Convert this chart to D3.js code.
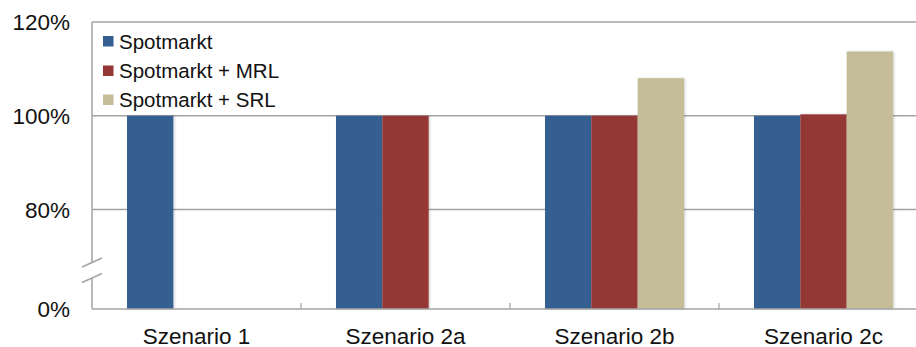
<!DOCTYPE html>
<html>
<head>
<meta charset="utf-8">
<script src="https://cdn.jsdelivr.net/npm/d3@7"></script>
<style>
  html, body { margin: 0; padding: 0; background: #fff; }
  svg { display: block; font-family: "Liberation Sans", Arial, sans-serif; }
</style>
</head>
<body>
<svg id="chart" width="916" height="347"></svg>
<script>
// Scenario categories and series
const categories = ["Szenario 1", "Szenario 2a", "Szenario 2b", "Szenario 2c"];
const seriesNames = ["Spotmarkt", "Spotmarkt + MRL", "Spotmarkt + SRL"];
const seriesColors = ["#365F91", "#943735", "#C4BD97"];
// Values per series, one per scenario (null = not part of the scenario)
const spotmarkt    = [1.00, 1.00, 1.00, 1.00];
const spotmarktMRL = [null, 1.00, 1.00, 1.003];
const spotmarktSRL = [null, null, 1.08, 1.137];
const seriesValues = [spotmarkt, spotmarktMRL, spotmarktSRL];
// Y-axis ticks (broken axis: 0% then 80%..120%)
const yTicks = [0, 0.8, 1.0, 1.2];

const svg = d3.select("#chart");
const plotLeft = 92, plotTop = 22, plotBottom = 309, catWidth = 209;
const gridColor = "#a3a3a3";

// Piecewise scale so the lower part (0–80%) is compressed below the break
const y = d3.scaleLinear().domain([0, 0.8, 1.2]).range([plotBottom, 209.5, plotTop]);
const x0 = d3.scaleBand().domain(categories).range([plotLeft, plotLeft + catWidth * categories.length]);
const x1 = d3.scaleBand().domain(seriesNames).range([35, catWidth - 35]);

// Gridlines (top border at 120%, plus 100% and 80%)
svg.append("g").selectAll("line").data([0.8, 1.0, 1.2]).join("line")
  .attr("x1", plotLeft).attr("x2", 916)
  .attr("y1", d => y(d)).attr("y2", d => y(d))
  .attr("stroke", gridColor).attr("stroke-width", 1.5);

// Bar shadow
const defs = svg.append("defs");
const f = defs.append("filter").attr("id", "sh").attr("x", "-10%").attr("y", "-10%").attr("width", "130%").attr("height", "130%");
f.append("feDropShadow").attr("dx", 1.2).attr("dy", 0).attr("stdDeviation", 0.8)
  .attr("flood-color", "#000").attr("flood-opacity", 0.18);

// Bars
const barData = [];
categories.forEach((c, i) => {
  seriesNames.forEach((s, j) => {
    const v = seriesValues[j][i];
    if (v != null) barData.push({ cat: c, series: s, value: v, color: seriesColors[j] });
  });
});
svg.append("g").selectAll("rect").data(barData).join("rect")
  .attr("x", d => x0(d.cat) + x1(d.series))
  .attr("width", x1.bandwidth())
  .attr("y", d => y(d.value))
  .attr("height", d => plotBottom - y(d.value))
  .attr("fill", d => d.color)
  .attr("filter", "url(#sh)");

// Category axis
const xAxis = svg.append("g");
xAxis.append("line").attr("x1", plotLeft).attr("x2", 916).attr("y1", plotBottom).attr("y2", plotBottom)
  .attr("stroke", gridColor).attr("stroke-width", 1.5);
xAxis.selectAll("line.tick").data(categories.slice(1)).join("line").attr("class", "tick")
  .attr("x1", d => x0(d)).attr("x2", d => x0(d))
  .attr("y1", plotBottom).attr("y2", plotBottom - 6)
  .attr("stroke", gridColor).attr("stroke-width", 1.2);
xAxis.selectAll("text").data(categories).join("text")
  .attr("x", d => x0(d) + x0.bandwidth() / 2)
  .attr("y", 343.5)
  .attr("text-anchor", "middle")
  .attr("font-size", 22.5)
  .attr("fill", "#111")
  .text(d => d);

// Value axis with break
const breakTop = 262.5, breakBottom = 278;
const yAxis = svg.append("g");
yAxis.append("line").attr("x1", plotLeft).attr("x2", plotLeft).attr("y1", plotTop).attr("y2", breakTop)
  .attr("stroke", gridColor).attr("stroke-width", 1.5);
yAxis.append("line").attr("x1", plotLeft).attr("x2", plotLeft).attr("y1", breakBottom).attr("y2", plotBottom)
  .attr("stroke", gridColor).attr("stroke-width", 1.5);
[breakTop, breakBottom].forEach(yc => {
  yAxis.append("line")
    .attr("x1", plotLeft - 10).attr("y1", yc + 4.5)
    .attr("x2", plotLeft + 10).attr("y2", yc - 4.5)
    .attr("stroke", gridColor).attr("stroke-width", 1.5);
});
yAxis.selectAll("text").data(yTicks).join("text")
  .attr("x", 70)
  .attr("y", d => y(d) + 8)
  .attr("text-anchor", "end")
  .attr("font-size", 22.5)
  .attr("fill", "#111")
  .text(d => d3.format(".0%")(d));

// Legend
const legend = svg.append("g");
const rowY = [41, 70.5, 99.5];
seriesNames.forEach((s, i) => {
  legend.append("rect").attr("x", 103).attr("y", rowY[i] - 5).attr("width", 10.5).attr("height", 10.5)
    .attr("fill", seriesColors[i]);
  legend.append("text").attr("x", 119).attr("y", rowY[i] + 7.5)
    .attr("font-size", 20.5).attr("fill", "#111").text(s);
});
</script>
</body>
</html>
